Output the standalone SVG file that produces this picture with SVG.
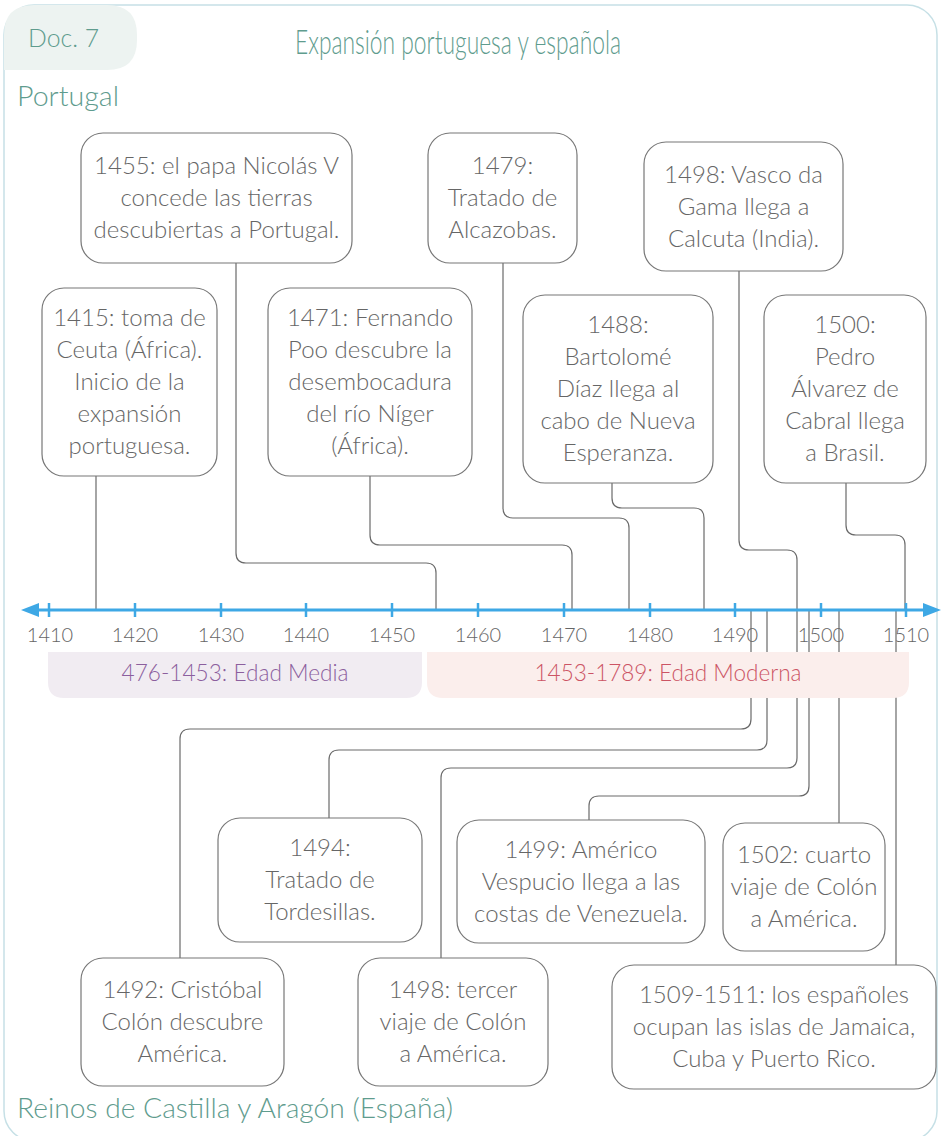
<svg xmlns="http://www.w3.org/2000/svg" width="941" height="1136" viewBox="0 0 941 1136">
<style>
.head{font-family:Lato,"Noto Sans",sans-serif;font-weight:300;fill:#5f9c8e}
.box rect{fill:#fff;stroke:#777;stroke-width:1.2}
.box text{font-family:Lato,"Open Sans",sans-serif;font-weight:300;font-size:24px;fill:#666;text-anchor:middle}
.conn path{fill:none;stroke:#6a6a6a;stroke-width:1.2}
.tick{stroke:#3ea8e5;stroke-width:2.5}
.yr{font-family:Lato,"Open Sans",sans-serif;font-weight:300;font-size:20px;fill:#666;text-anchor:middle}
.per{font-family:Lato,"Noto Sans",sans-serif;font-weight:300;font-size:23px;text-anchor:middle}
</style>
<rect x="0" y="0" width="941" height="1136" fill="#fff"/>
<rect x="4" y="5" width="933" height="1136" rx="30" fill="none" stroke="#c6e0e6" stroke-width="1.5"/>
<path d="M4 70 V35 Q4 5 34 5 H107 Q137 5 137 35 V40 Q137 70 107 70 Z" fill="#edf3f1"/>
<text class="head" x="28" y="47" font-size="26" textLength="71" lengthAdjust="spacingAndGlyphs">Doc. 7</text>
<text class="head" x="295" y="54" font-size="33" textLength="326" lengthAdjust="spacingAndGlyphs">Expansión portuguesa y española</text>
<text class="head" x="17" y="106" font-size="28" textLength="102" lengthAdjust="spacingAndGlyphs">Portugal</text>
<text class="head" x="17" y="1118" font-size="28" textLength="436" lengthAdjust="spacingAndGlyphs">Reinos de Castilla y Aragón (España)</text>

<g id="connectors" class="conn">
<path d="M96 476 V610"/>
<path d="M236 263 V553 Q236 563 246 563 H426 Q436 563 436 573 V610"/>
<path d="M370 476 V535 Q370 545 380 545 H562 Q572 545 572 555 V610"/>
<path d="M503 263 V508 Q503 518 513 518 H619 Q629 518 629 528 V610"/>
<path d="M612 483 V498 Q612 508 622 508 H694 Q704 508 704 518 V610"/>
<path d="M739 271 V540 Q739 550 749 550 H787 Q797 550 797 560 V610"/>
<path d="M846 483 V525 Q846 535 856 535 H895 Q905 535 905 545 V610"/>
<path d="M751 610 V719 Q751 729 741 729 H190 Q180 729 180 739 V958"/>
<path d="M767 610 V740 Q767 750 757 750 H339 Q329 750 329 760 V818"/>
<path d="M797 610 V758 Q797 768 787 768 H451 Q441 768 441 778 V958"/>
<path d="M809 610 V786 Q809 796 799 796 H599 Q589 796 589 806 V820"/>
<path d="M839 610 V823"/>
<path d="M896 610 V965"/>
</g>

<g id="axis">
<line x1="34" y1="610" x2="928" y2="610" stroke="#3ea8e5" stroke-width="3"/>
<path d="M21 610 L39 603 L39 617 Z" fill="#3ea8e5"/>
<path d="M941 610 L923 603 L923 617 Z" fill="#3ea8e5"/>
<line class="tick" x1="49" y1="603" x2="49" y2="617"/>
<line class="tick" x1="135" y1="603" x2="135" y2="617"/>
<line class="tick" x1="221" y1="603" x2="221" y2="617"/>
<line class="tick" x1="306" y1="603" x2="306" y2="617"/>
<line class="tick" x1="392" y1="603" x2="392" y2="617"/>
<line class="tick" x1="478" y1="603" x2="478" y2="617"/>
<line class="tick" x1="564" y1="603" x2="564" y2="617"/>
<line class="tick" x1="650" y1="603" x2="650" y2="617"/>
<line class="tick" x1="735" y1="603" x2="735" y2="617"/>
<line class="tick" x1="821" y1="603" x2="821" y2="617"/>
<line class="tick" x1="906" y1="603" x2="906" y2="617"/>
<text class="yr" x="50" y="642">1410</text>
<text class="yr" x="135" y="642">1420</text>
<text class="yr" x="221" y="642">1430</text>
<text class="yr" x="306" y="642">1440</text>
<text class="yr" x="392" y="642">1450</text>
<text class="yr" x="478" y="642">1460</text>
<text class="yr" x="564" y="642">1470</text>
<text class="yr" x="650" y="642">1480</text>
<text class="yr" x="735" y="642">1490</text>
<text class="yr" x="821" y="642">1500</text>
<text class="yr" x="906" y="642">1510</text>
</g>

<g id="periods">
<path d="M48 652 H422 V682 Q422 698 406 698 H64 Q48 698 48 682 Z" fill="#f1ecf2"/>
<text class="per" x="235" y="681" fill="#8c5f9e" textLength="227" lengthAdjust="spacingAndGlyphs">476-1453: Edad Media</text>
<path d="M427 652 H909 V682 Q909 698 893 698 H443 Q427 698 427 682 Z" fill="#fbeeec"/>
<text class="per" x="668" y="681" fill="#cc5464" textLength="267" lengthAdjust="spacingAndGlyphs">1453-1789: Edad Moderna</text>
</g>

<g id="n1455" class="box"><rect x="81" y="133" width="271" height="130" rx="22"/>
<text x="216.5" y="174">1455: el papa Nicolás V</text><text x="216.5" y="206">concede las tierras</text><text x="216.5" y="238">descubiertas a Portugal.</text></g>
<g id="n1415" class="box"><rect x="42" y="288" width="175" height="188" rx="22"/>
<text x="129.5" y="326.4">1415: toma de</text><text x="129.5" y="358.2">Ceuta (África).</text><text x="129.5" y="390">Inicio de la</text><text x="129.5" y="421.8">expansión</text><text x="129.5" y="453.6">portuguesa.</text></g>
<g id="n1471" class="box"><rect x="268" y="288" width="204" height="188" rx="22"/>
<text x="370" y="326.4">1471: Fernando</text><text x="370" y="358.2">Poo descubre la</text><text x="370" y="390">desembocadura</text><text x="370" y="421.8">del río Níger</text><text x="370" y="453.6">(África).</text></g>
<g id="n1479" class="box"><rect x="428" y="133" width="149" height="130" rx="22"/>
<text x="502.5" y="174">1479:</text><text x="502.5" y="206">Tratado de</text><text x="502.5" y="238">Alcazobas.</text></g>
<g id="n1498a" class="box"><rect x="644" y="142" width="199" height="129" rx="22"/>
<text x="743.5" y="182.5">1498: Vasco da</text><text x="743.5" y="214.5">Gama llega a</text><text x="743.5" y="246.5">Calcuta (India).</text></g>
<g id="n1488" class="box"><rect x="523" y="295" width="190" height="188" rx="22"/>
<text x="618" y="333.4">1488:</text><text x="618" y="365.2">Bartolomé</text><text x="618" y="397">Díaz llega al</text><text x="618" y="428.8">cabo de Nueva</text><text x="618" y="460.6">Esperanza.</text></g>
<g id="n1500" class="box"><rect x="764" y="295" width="162" height="188" rx="22"/>
<text x="845" y="333.4">1500:</text><text x="845" y="365.2">Pedro</text><text x="845" y="397">Álvarez de</text><text x="845" y="428.8">Cabral llega</text><text x="845" y="460.6">a Brasil.</text></g>

<g id="n1494" class="box"><rect x="218" y="818" width="204" height="124" rx="22"/>
<text x="320" y="856">1494:</text><text x="320" y="888">Tratado de</text><text x="320" y="920">Tordesillas.</text></g>
<g id="n1492" class="box"><rect x="81" y="958" width="203" height="128" rx="22"/>
<text x="182.5" y="998">1492: Cristóbal</text><text x="182.5" y="1030">Colón descubre</text><text x="182.5" y="1062">América.</text></g>
<g id="n1498b" class="box"><rect x="358" y="958" width="190" height="128" rx="22"/>
<text x="453" y="998">1498: tercer</text><text x="453" y="1030">viaje de Colón</text><text x="453" y="1062">a América.</text></g>
<g id="n1499" class="box"><rect x="457" y="820" width="248" height="123" rx="22"/>
<text x="581" y="857.5">1499: Américo</text><text x="581" y="889.5">Vespucio llega a las</text><text x="581" y="921.5">costas de Venezuela.</text></g>
<g id="n1502" class="box"><rect x="723" y="823" width="162" height="128" rx="22"/>
<text x="804" y="863">1502: cuarto</text><text x="804" y="895">viaje de Colón</text><text x="804" y="927">a América.</text></g>
<g id="n1509" class="box"><rect x="612" y="965" width="324" height="124" rx="22"/>
<text x="774" y="1003">1509-1511: los españoles</text><text x="774" y="1035">ocupan las islas de Jamaica,</text><text x="774" y="1067">Cuba y Puerto Rico.</text></g>
</svg>
